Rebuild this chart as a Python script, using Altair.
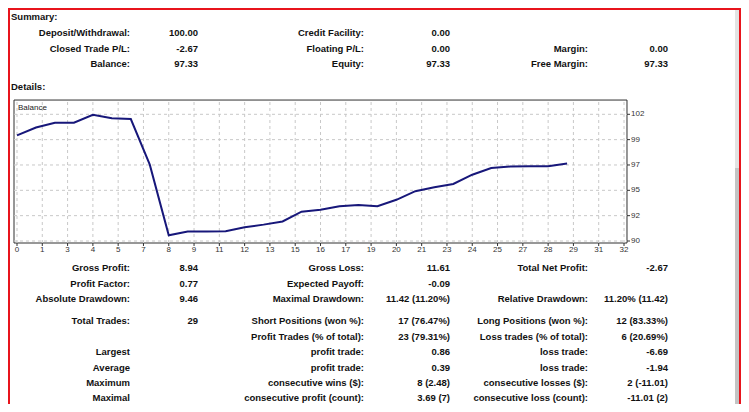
import altair as alt
import pandas as pd

# ---------------- data ----------------
balance = [100.00, 100.75, 101.20, 101.20, 101.96, 101.62, 101.55, 97.23, 90.54, 90.90,
           90.90, 90.92, 91.30, 91.55, 91.85, 92.78, 92.95, 93.30, 93.40, 93.30,
           93.90, 94.72, 95.10, 95.40, 96.28, 96.92, 97.05, 97.07, 97.07, 97.33]

x_tick_labels = ["0", "1", "3", "4", "5", "7", "8", "9", "11", "12", "13", "15", "16",
                 "17", "19", "20", "21", "23", "24", "25", "27", "28", "29", "31", "32"]
y_tick_labels = ["90", "92", "95", "97", "99", "102"]

summary_labels = [
    ["Deposit/Withdrawal:", "Closed Trade P/L:", "Balance:"],
    ["Credit Facility:", "Floating P/L:", "Equity:"],
    ["", "Margin:", "Free Margin:"],
]
summary_values = [
    ["100.00", "-2.67", "97.33"],
    ["0.00", "0.00", "97.33"],
    ["", "0.00", "97.33"],
]

details_labels = [
    ["Gross Profit:", "Profit Factor:", "Absolute Drawdown:", "Total Trades:", "",
     "Largest", "Average", "Maximum", "Maximal"],
    ["Gross Loss:", "Expected Payoff:", "Maximal Drawdown:", "Short Positions (won %):",
     "Profit Trades (% of total):", "profit trade:", "profit trade:",
     "consecutive wins ($):", "consecutive profit (count):"],
    ["Total Net Profit:", "", "Relative Drawdown:", "Long Positions (won %):",
     "Loss trades (% of total):", "loss trade:", "loss trade:",
     "consecutive losses ($):", "consecutive loss (count):"],
]
details_values = [
    ["8.94", "0.77", "9.46", "29", "", "", "", "", ""],
    ["11.61", "-0.09", "11.42 (11.20%)", "17 (76.47%)", "23 (79.31%)", "0.86", "0.39",
     "8 (2.48)", "3.69 (7)"],
    ["-2.67", "", "11.20% (11.42)", "12 (83.33%)", "6 (20.69%)", "-6.69", "-1.94",
     "2 (-11.01)", "-11.01 (2)"],
]

headers = ["Summary:", "Details:"]
chart_title = "Balance"

# ---------------- layout (pixels) ----------------
W, H = 733, 396
FONT = "Liberation Sans"
label_right = [122, 356, 580]
value_right = [190, 442, 660]
summary_rows = [25, 40.5, 56]
details_rows = [259.5, 275.5, 290.5, 312.5, 328.5, 344, 359.5, 375, 389.5]
header_pos = [(3, 9), (3, 79)]

X_DOM, X_RNG = [0, 32], [9, 616]
Y_DOM, Y_RNG = [90, 102], [233, 106.3]
BOX_X = [-0.158, 32.158]
BOX_Y = [89.81, 103.35]

xs = alt.Scale(domain=X_DOM, range=X_RNG)
ys = alt.Scale(domain=Y_DOM, range=Y_RNG)

# ---------------- text tables ----------------
rows = []
for c in range(3):
    for r in range(3):
        rows.append({"t": summary_labels[c][r], "x": label_right[c], "y": summary_rows[r]})
        rows.append({"t": summary_values[c][r], "x": value_right[c], "y": summary_rows[r]})
    for r in range(len(details_rows)):
        rows.append({"t": details_labels[c][r], "x": label_right[c], "y": details_rows[r]})
        rows.append({"t": details_values[c][r], "x": value_right[c], "y": details_rows[r]})
text_df = pd.DataFrame([r for r in rows if r["t"]])

hdr_df = pd.DataFrame({"t": headers, "x": [p[0] for p in header_pos],
                       "y": [p[1] for p in header_pos]})

text_layer = alt.Chart(text_df).mark_text(
    align="right", baseline="middle", font=FONT, fontSize=9.5, fontWeight="bold",
    color="#111111"
).encode(x=alt.X("x:Q", scale=None, axis=None), y=alt.Y("y:Q", scale=None, axis=None),
         text="t:N")

hdr_layer = alt.Chart(hdr_df).mark_text(
    align="left", baseline="middle", font=FONT, fontSize=9.5, fontWeight="bold",
    color="#111111"
).encode(x=alt.X("x:Q", scale=None, axis=None), y=alt.Y("y:Q", scale=None, axis=None),
         text="t:N")

# ---------------- decorations ----------------
deco_df = pd.DataFrame([
    {"x": 727, "x2": 733, "y": 0, "y2": 160, "c": "#e3e3e3"},
    {"x": 727, "x2": 733, "y": 160, "y2": 396, "c": "#c4c4c4"},
    {"x": 0, "x2": 2, "y": 0, "y2": 396, "c": "#e8141c"},
    {"x": 0, "x2": 733, "y": 0, "y2": 2, "c": "#e8141c"},
    {"x": 731, "x2": 733, "y": 0, "y2": 396, "c": "#e8141c"},
])
deco_layer = alt.Chart(deco_df).mark_rect().encode(
    x=alt.X("x:Q", scale=None, axis=None), x2="x2:Q",
    y=alt.Y("y:Q", scale=None, axis=None), y2="y2:Q",
    color=alt.Color("c:N", scale=None, legend=None),
)

# ---------------- balance chart ----------------
n_x = len(x_tick_labels)
xt_df = pd.DataFrame({"v": [k * X_DOM[1] / (n_x - 1) for k in range(n_x)],
                      "lab": x_tick_labels})
n_y = len(y_tick_labels)
yt_df = pd.DataFrame({"v": [Y_DOM[0] + k * (Y_DOM[1] - Y_DOM[0]) / (n_y - 1) for k in range(n_y)],
                      "lab": y_tick_labels})

box_df = pd.DataFrame({"x": [BOX_X[0]], "x2": [BOX_X[1]], "y": [BOX_Y[0]], "y2": [BOX_Y[1]]})

vgrid = alt.Chart(xt_df).mark_rule(color="#c8c8c8", strokeWidth=1, strokeDash=[3, 3]).encode(
    x=alt.X("v:Q", scale=xs, axis=None),
    y=alt.Y("y0:Q", scale=ys, axis=None), y2="y1:Q",
).transform_calculate(y0=str(BOX_Y[0]), y1=str(BOX_Y[1]))

hgrid = alt.Chart(yt_df).mark_rule(color="#c8c8c8", strokeWidth=1, strokeDash=[3, 3]).encode(
    y=alt.Y("v:Q", scale=ys, axis=None),
    x=alt.X("x0:Q", scale=xs, axis=None), x2="x1:Q",
).transform_calculate(x0=str(BOX_X[0]), x1=str(BOX_X[1]))

box = alt.Chart(box_df).mark_rect(fill="white", stroke="#303030", strokeWidth=1).encode(
    x=alt.X("x:Q", scale=xs, axis=None), x2="x2:Q",
    y=alt.Y("y:Q", scale=ys, axis=None), y2="y2:Q",
)

bal_df = pd.DataFrame({"trade": list(range(len(balance))), "balance": balance})
line = alt.Chart(bal_df).mark_line(color="#17177a", strokeWidth=2).encode(
    x=alt.X("trade:Q", scale=xs, axis=None),
    y=alt.Y("balance:Q", scale=ys, axis=None),
)

xticks = alt.Chart(xt_df).mark_rule(color="#303030").encode(
    x=alt.X("v:Q", scale=xs, axis=None), y=alt.value(235), y2=alt.value(238))
yticks = alt.Chart(yt_df).mark_rule(color="#303030").encode(
    y=alt.Y("v:Q", scale=ys, axis=None), x=alt.value(619), x2=alt.value(622))

xlabels = alt.Chart(xt_df).mark_text(
    align="center", baseline="middle", font=FONT, fontSize=8, color="#333333"
).encode(x=alt.X("v:Q", scale=xs, axis=None), y=alt.value(242), text="lab:N")

ylabels = alt.Chart(yt_df).mark_text(
    align="left", baseline="middle", font=FONT, fontSize=8, color="#333333"
).encode(y=alt.Y("v:Q", scale=ys, axis=None), x=alt.value(623), text="lab:N")

title_layer = alt.Chart(pd.DataFrame({"t": [chart_title]})).mark_text(
    align="left", baseline="middle", font=FONT, fontSize=8, color="#222222"
).encode(x=alt.value(10), y=alt.value(99.5), text="t:N")

chart = alt.layer(
    deco_layer, box, vgrid, hgrid, line, xticks, yticks, xlabels, ylabels, title_layer,
    text_layer, hdr_layer,
).resolve_scale(x="independent", y="independent").properties(
    width=W, height=H, padding=0, autosize=alt.AutoSizeParams(type="none"),
    background="white",
).configure_view(stroke=None)

chart.save("out.html", embed_options={"renderer": "svg", "actions": False})
